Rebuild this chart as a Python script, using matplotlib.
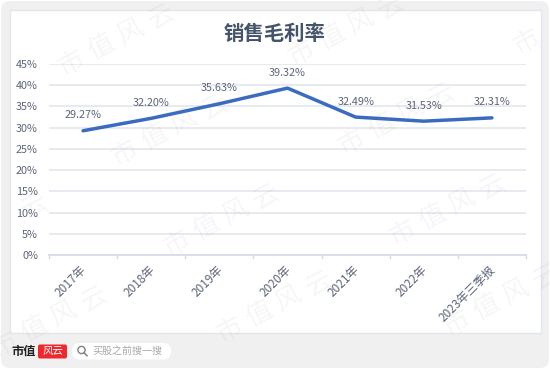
import matplotlib
matplotlib.use("Agg")
import matplotlib.pyplot as plt
from matplotlib.patches import FancyBboxPatch, Rectangle, Circle
from matplotlib.transforms import ScaledTranslation

plt.rcParams["font.family"] = ["Noto Sans CJK SC", "DejaVu Sans"]

categories = ["2017年", "2018年", "2019年", "2020年", "2021年", "2022年", "2023年三季报"]
margin = [29.27, 32.20, 35.63, 39.32, 32.49, 31.53, 32.31]
yticks = [0, 5, 10, 15, 20, 25, 30, 35, 40, 45]
title = "销售毛利率"
brand = "市值"
search_hint = "买股之前搜一搜"
watermark = "市值风云"
# where the first watermark character sits, in pixels
wm_spots = [(72, 63), (125, 153), (302, 53), (527, 42), (352, 142), (177, 243),
            (403, 233), (5, 345), (230, 330), (457, 323), (-55, 252)]

TEXT = "#5b6478"
GRID = "#e2e7ef"

fig = plt.figure(figsize=(5.5, 3.69), dpi=100, facecolor="white")

# page background, in pixel coordinates
bg = fig.add_axes([0, 0, 1, 1], zorder=0)
bg.set_xlim(0, 550)
bg.set_ylim(369, 0)
bg.axis("off")
bg.add_patch(FancyBboxPatch((1, 1), 548, 367, boxstyle="round,pad=0,rounding_size=9",
                            fc="#f0f0f0", ec="none"))
bg.add_patch(Rectangle((9.5, 9.5), 531, 323, fc="white", ec="#dfe6ee", lw=1))

# chart
ax = fig.add_axes([49 / 550, 1 - 255 / 369, 477 / 550, 191 / 369], zorder=1)
ax.patch.set_alpha(0)
x = list(range(len(categories)))
ax.plot(x, margin, color="#3b6bc1", lw=2.5, solid_capstyle="round", zorder=3)
ax.set_xlim(-0.5, len(categories) - 0.5)
ax.set_ylim(0, 45)
ax.set_yticks(yticks)
ax.set_yticklabels([f"{v}%" for v in yticks], fontsize=7.8, color=TEXT)
ax.set_xticks(x)
ax.set_xticklabels(categories, fontsize=8.5, color=TEXT, rotation=45,
                   ha="right", va="top", rotation_mode="anchor")
ax.tick_params(axis="y", length=0, pad=8)
ax.tick_params(axis="x", length=0, pad=7)
shift = ScaledTranslation(-3 / 100, 1.5 / 100, fig.dpi_scale_trans)
for lab in ax.get_xticklabels():
    lab.set_transform(lab.get_transform() + shift)
ax.grid(axis="y", color=GRID, lw=1.2)
ax.set_axisbelow(True)
for s in ["top", "right", "left"]:
    ax.spines[s].set_visible(False)
ax.spines["bottom"].set_color("#d5dbe5")
ax.spines["bottom"].set_linewidth(1.2)
# category separators on the axis line
for i in range(len(categories) + 1):
    ax.plot([i - 0.5, i - 0.5], [0, -0.8], color="#d5dbe5", lw=1, clip_on=False)

for xi, v in zip(x, margin):
    ax.annotate(f"{v:.2f}%", (xi, v), xytext=(0, 11.2), textcoords="offset points",
                ha="center", va="center", fontsize=7.8, color=TEXT)

# title, logo, search box, watermark on top
top = fig.add_axes([0, 0, 1, 1], zorder=2)
top.set_xlim(0, 550)
top.set_ylim(369, 0)
top.axis("off")
top.text(275, 33, title, ha="center", va="center", fontsize=14.7, fontweight="bold", color="#44546a")

top.text(11, 351.5, brand, ha="left", va="center", fontsize=8.8, fontweight="bold", color="#222222")
top.add_patch(FancyBboxPatch((38, 344.5), 29, 14, boxstyle="round,pad=0,rounding_size=2",
                             fc="#f0282d", ec="none"))
top.text(52.5, 351, "风云", ha="center", va="center", fontsize=7.5, color="white", style="italic")
top.add_patch(FancyBboxPatch((72, 343), 99, 16.5, boxstyle="round,pad=0,rounding_size=8",
                             fc="white", ec="none"))
top.add_patch(Circle((81.5, 350), 3.6, fc="none", ec="#808080", lw=1))
top.plot([84, 87], [352.7, 355.7], color="#808080", lw=1.1)
top.text(92.5, 351, search_hint, ha="left", va="center", fontsize=7.2, color="#a8a8a8")

# watermark, spaced out one character at a time
for wx, wy in wm_spots:
    for k, ch in enumerate(watermark):
        cx = wx + k * 29.5
        cy = wy - k * 15.5
        if 4 < cx < 546 and 4 < cy < 365:
            top.text(cx, cy, ch, ha="center", va="center", fontsize=19, rotation=28,
                     rotation_mode="anchor", color="#808080", alpha=0.07)

fig.savefig("out.png", dpi=100, facecolor="white")
